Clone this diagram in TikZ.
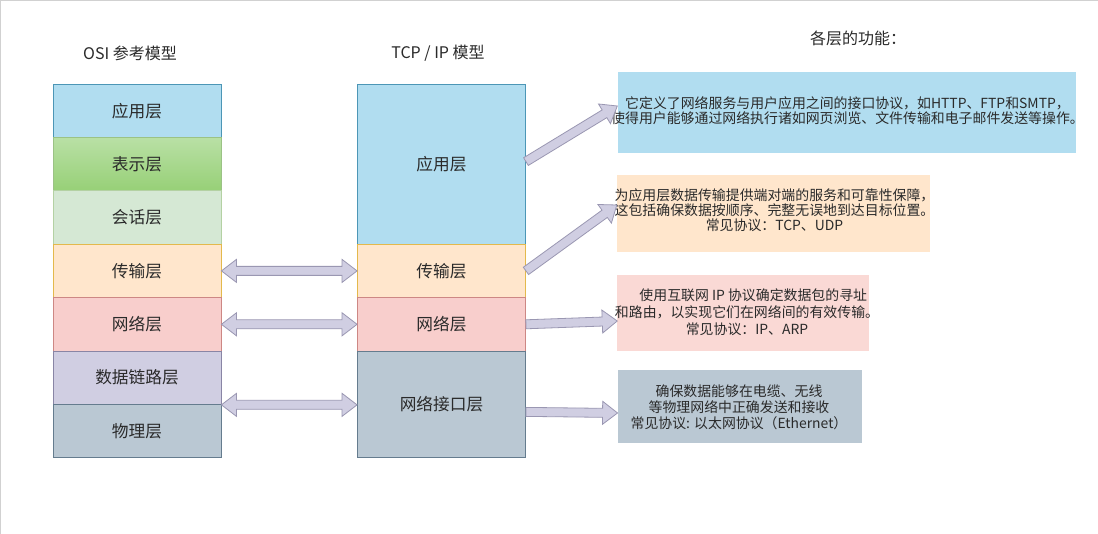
\documentclass[tikz,border=0pt]{standalone}
\usepackage{fontspec}
\setmainfont{Noto Sans CJK SC}
\usetikzlibrary{calc}
\definecolor{blueF}{HTML}{B1DDF0}\definecolor{blueS}{HTML}{10739E}
\definecolor{greenF}{HTML}{D5E8D4}\definecolor{greenS}{HTML}{82B366}
\definecolor{greenT}{HTML}{B9E0A5}\definecolor{greenB}{HTML}{97D077}
\definecolor{orangeF}{HTML}{FFE6CC}\definecolor{orangeS}{HTML}{D79B00}
\definecolor{redF}{HTML}{F8CECC}\definecolor{redS}{HTML}{B85450}
\definecolor{pinkF}{HTML}{FAD9D5}
\definecolor{purpleF}{HTML}{D0CEE2}\definecolor{purpleS}{HTML}{56517E}
\definecolor{grayF}{HTML}{BAC8D3}\definecolor{grayS}{HTML}{23445D}
\definecolor{txt}{HTML}{2A2A2A}
\tikzset{
  layer/.style={draw, line width=0.9pt, minimum width=168pt, inner sep=0pt, text=txt, font=\fontsize{16.7}{18}\selectfont},
  desc/.style={inner sep=0pt, text=txt, align=center, font=\fontsize{13.9}{15}\selectfont},
  title/.style={text=txt, inner sep=0pt, font=\fontsize{16}{18}\selectfont},
  flexstyle/.style={draw=purpleS!60, fill=purpleF, line width=0.8pt, line join=miter},
}
\newcommand{\flexarr}[2]{%
  \coordinate (fa-s) at (#1); \coordinate (fa-e) at (#2);
  \coordinate (fa-c) at ($(fa-e)!15pt!(fa-s)$);
  \draw[flexstyle] ($(fa-s)!4.5pt!90:(fa-e)$) -- ($(fa-c)!4.5pt!90:(fa-e)$) -- ($(fa-c)!11.5pt!90:(fa-e)$) -- (fa-e) -- ($(fa-c)!11.5pt!-90:(fa-e)$) -- ($(fa-c)!4.5pt!-90:(fa-e)$) -- ($(fa-s)!4.5pt!-90:(fa-e)$) -- cycle;
}
\newcommand{\flexdbl}[2]{%
  \coordinate (fa-s) at (#1); \coordinate (fa-e) at (#2);
  \coordinate (fa-c) at ($(fa-e)!15pt!(fa-s)$);
  \coordinate (fa-d) at ($(fa-s)!15pt!(fa-e)$);
  \draw[flexstyle] (fa-s) -- ($(fa-d)!11.5pt!90:(fa-e)$) -- ($(fa-d)!4.5pt!90:(fa-e)$) -- ($(fa-c)!4.5pt!90:(fa-e)$) -- ($(fa-c)!11.5pt!90:(fa-e)$) -- (fa-e) -- ($(fa-c)!11.5pt!-90:(fa-e)$) -- ($(fa-c)!4.5pt!-90:(fa-e)$) -- ($(fa-d)!4.5pt!-90:(fa-e)$) -- ($(fa-d)!11.5pt!-90:(fa-e)$) -- cycle;
}
\begin{document}
\begin{tikzpicture}[x=1pt,y=-1pt]
\useasboundingbox (0,0) rectangle (1098,534);
\fill[white] (0,0) rectangle (1098,534);
\draw[line width=1.2pt, black!18] (0.6,534) -- (0.6,0.6) -- (1098,0.6);
% titles
\node[title] (t1) at (130,53) {OSI 参考模型};
\node[title] (t2) at (438,53) {TCP / IP 模型};
\node[title] (t3) at (858,38) {各层的功能：};
% OSI column
\node[layer, draw=blueS!75, fill=blueF, minimum height=53.4pt] (oA) at (137,110.7) {应用层};
\node[layer, draw=greenS!80, top color=greenT, bottom color=greenB, minimum height=53.4pt] (oP) at (137,164.1) {表示层};
\node[layer, draw=greenS!60, fill=greenF, minimum height=53.4pt] (oS) at (137,217.5) {会话层};
\node[layer, draw=orangeS!70, fill=orangeF, minimum height=53.4pt] (oT) at (137,270.9) {传输层};
\node[layer, draw=redS!70, fill=redF, minimum height=53.4pt] (oN) at (137,324.3) {网络层};
\node[layer, draw=purpleS!70, fill=purpleF, minimum height=53.4pt] (oD) at (137,377.7) {数据链路层};
\node[layer, draw=grayS!70, fill=grayF, minimum height=53.4pt] (oPh) at (137,431.1) {物理层};
% TCP/IP column
\node[layer, draw=blueS!75, fill=blueF, minimum height=160.2pt] (tA) at (441.5,164.1) {应用层};
\node[layer, draw=orangeS!70, fill=orangeF, minimum height=53.4pt] (tT) at (441.5,270.9) {传输层};
\node[layer, draw=redS!70, fill=redF, minimum height=53.4pt] (tN) at (441.5,324.3) {网络层};
\node[layer, draw=grayS!70, fill=grayF, minimum height=106.8pt] (tI) at (441.5,404.4) {网络接口层};
% description boxes
\node[fill=blueF, minimum width=458pt, minimum height=81pt, inner sep=0pt] (dA) at (846.5,112.5) {};
\node[desc] at (847.5,110.5) {它定义了网络服务与用户应用之间的接口协议，如HTTP、FTP和SMTP，\\使得用户能够通过网络执行诸如网页浏览、文件传输和电子邮件发送等操作。};
\node[fill=orangeF, minimum width=313pt, minimum height=77pt, inner sep=0pt] (dT) at (773.5,213.5) {};
\node[desc] at (774.5,210.7) {为应用层数据传输提供端对端的服务和可靠性保障，\\这包括确保数据按顺序、完整无误地到达目标位置。\\常见协议：TCP、UDP};
\node[fill=pinkF, minimum width=251.5pt, minimum height=76.5pt, inner sep=0pt] (dN) at (743.2,313) {};
\node[desc, font=\fontsize{13.9}{17}\selectfont] at (747,312) {\hspace*{0.9em}使用互联网 IP 协议确定数据包的寻址\\和路由，以实现它们在网络间的有效传输。\\常见协议：IP、ARP};
\node[fill=grayF, minimum width=244.5pt, minimum height=73pt, inner sep=0pt] (dI) at (740,406.5) {};
\node[desc, font=\fontsize{13.9}{16}\selectfont] at (739,407) {确保数据能够在电缆、无线\\等物理网络中正确发送和接收\\常见协议: 以太网协议（Ethernet）};
% double arrows
\flexdbl{oT.east}{tT.west}
\flexdbl{oN.east}{tN.west}
\flexdbl{oD.south east}{$(tT.west|-oD.south east)$}
% single arrows
\flexarr{$(tA.east)+(0,-2.5)$}{$(dA.west)+(0,-6.5)$}
\flexarr{tT.east}{$(dT.west)+(0,-8.5)$}
\flexarr{tN.east}{$(dN.west)+(0,8)$}
\flexarr{$(tI.east)+(0,7.5)$}{$(dI.west)+(0,6.5)$}
\end{tikzpicture}
\end{document}
